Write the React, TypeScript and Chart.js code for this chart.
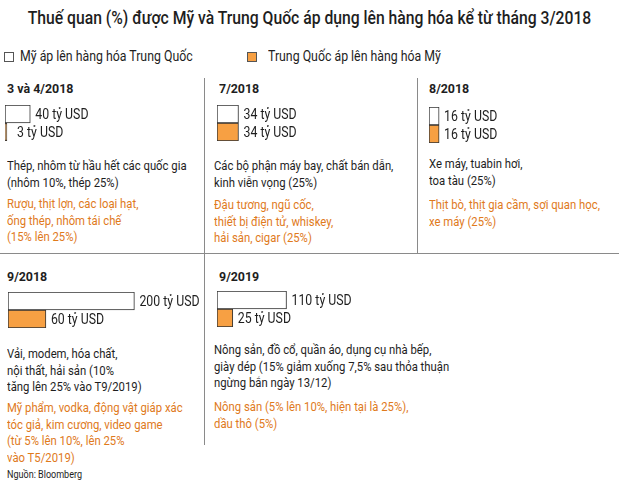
import React, { useEffect, useRef } from 'react';
import { Chart, registerables } from 'chart.js';

Chart.register(...registerables);

const title = 'Thuế quan (%) được Mỹ và Trung Quốc áp dụng lên hàng hóa kể từ tháng 3/2018';
const seriesLabels = ['Mỹ áp lên hàng hóa Trung Quốc', 'Trung Quốc áp lên hàng hóa Mỹ'];
const periods = ['3 và 4/2018', '7/2018', '8/2018', '9/2018', '9/2019'];
const usValues = [40, 34, 16, 200, 110];
const chinaValues = [3, 34, 16, 60, 25];
const unit = 'tỷ USD';
const usGoods: string[][] = [
  ['Thép, nhôm từ hầu hết các quốc gia', '(nhôm 10%, thép 25%)'],
  ['Các bộ phận máy bay, chất bán dẫn,', 'kinh viễn vọng (25%)'],
  ['Xe máy, tuabin hơi,', 'toa tàu (25%)'],
  ['Vải, modem, hóa chất,', 'nội thất, hải sản (10%', 'tăng lên 25% vào T9/2019)'],
  ['Nông sản, đồ cổ, quần áo, dụng cụ nhà bếp,', 'giày dép (15% giảm xuống 7,5% sau thỏa thuận', 'ngừng bắn ngày 13/12)'],
];
const chinaGoods: string[][] = [
  ['Rượu, thịt lợn, các loại hạt,', 'ống thép, nhôm tái chế', '(15% lên 25%)'],
  ['Đậu tương, ngũ cốc,', 'thiết bị điện tử, whiskey,', 'hải sản, cigar (25%)'],
  ['Thịt bò, thịt gia cầm, sợi quan học,', 'xe máy (25%)'],
  ['Mỹ phẩm, vodka, động vật giáp xác', 'tóc giả, kim cương, video game', '(từ 5% lên 10%, lên 25%', 'vào T5/2019)'],
  ['Nông sản (5% lên 10%, hiện tại là 25%),', 'dầu thô (5%)'],
];
const source = 'Nguồn: Bloomberg';

const FONT = 'Roboto, "Noto Sans", sans-serif';
const ORANGE = '#F7A043';
const ORANGE_TEXT = '#E07A1C';
const DARK = '#1e1e1e';
const LINE = '#8a8a8a';
const PX_PER_UNIT = 0.632;

// layout of each panel
const layout = [
  { hx: 7, hy: 80, bx: 5, by: 105, tx: 7, ty: 158, oy: 196, cw: 198 },
  { hx: 219, hy: 80, bx: 217, by: 105, tx: 214, ty: 158, oy: 197, cw: 198 },
  { hx: 429, hy: 80, bx: 429, by: 107, tx: 429, ty: 156, oy: 197, cw: 188 },
  { hx: 7, hy: 268, bx: 8, by: 292, tx: 7, ty: 346, oy: 400, cw: 196 },
  { hx: 219, hy: 268, bx: 217, by: 291, tx: 214, ty: 342, oy: 399, cw: 200 },
];

const labelPlugin = {
  id: 'valueLabels',
  afterDatasetsDraw(chart: any) {
    const ctx = chart.ctx;
    const meta = chart.getDatasetMeta(0);
    const data = chart.data.datasets[0].data as number[];
    meta.data.forEach((el: any, i: number) => {
      const x = Math.max(el.x + 5, el.base + 12);
      ctx.save();
      ctx.translate(x, el.y + 1);
      ctx.scale(0.88, 1);
      ctx.font = `14px ${FONT}`;
      ctx.fillStyle = DARK;
      ctx.textBaseline = 'middle';
      ctx.fillText(`${data[i]} ${unit}`, 0, 0);
      ctx.restore();
    });
  },
};

function PanelBars({ index, width }: { index: number; width: number }) {
  const ref = useRef<HTMLCanvasElement>(null);
  useEffect(() => {
    if (!ref.current) return;
    const chart = new Chart(ref.current, {
      type: 'bar',
      data: {
        labels: seriesLabels,
        datasets: [
          {
            data: [usValues[index], chinaValues[index]],
            backgroundColor: ['#ffffff', ORANGE],
            borderColor: '#333',
            borderWidth: 1,
            borderSkipped: false,
            barPercentage: 1,
            categoryPercentage: 1,
          },
        ],
      },
      options: {
        indexAxis: 'y',
        responsive: false,
        animation: false,
        events: [],
        layout: { padding: 0 },
        plugins: { legend: { display: false }, tooltip: { enabled: false } },
        scales: {
          x: { display: false, min: 0, max: width / PX_PER_UNIT },
          y: { display: false },
        },
      },
      plugins: [labelPlugin],
    });
    return () => chart.destroy();
  }, [index, width]);
  return <canvas ref={ref} width={width} height={36} style={{ display: 'block', width, height: 36 }} />;
}

const abs = (s: React.CSSProperties): React.CSSProperties => ({ position: 'absolute', ...s });

export default function App() {
  const textStyle: React.CSSProperties = {
    fontFamily: FONT,
    fontSize: 13,
    lineHeight: '16.5px',
    whiteSpace: 'nowrap',
    transform: 'scaleX(0.87)',
    transformOrigin: 'left top',
  };
  return (
    <div style={{ position: 'absolute', left: 0, top: 0, width: 619, height: 484, background: '#fff', overflow: 'hidden', fontFamily: FONT, color: DARK }}>
      <div style={abs({ left: -150, top: 7, width: 919, textAlign: 'center', fontSize: 18, fontWeight: 500, whiteSpace: 'nowrap', transform: 'scaleX(0.873)', transformOrigin: '459.5px 0' })}>{title}</div>
      {/* legend */}
      <div style={abs({ left: 4, top: 52, width: 8, height: 8, border: '1px solid #555', background: '#fff' })} />
      <div style={abs({ left: 20, top: 48, fontSize: 14, whiteSpace: 'nowrap', transform: 'scaleX(0.88)', transformOrigin: 'left top' })}>{seriesLabels[0]}</div>
      <div style={abs({ left: 247, top: 52, width: 8, height: 8, border: '1px solid #555', background: ORANGE })} />
      <div style={abs({ left: 268, top: 48, fontSize: 14, whiteSpace: 'nowrap', transform: 'scaleX(0.88)', transformOrigin: 'left top' })}>{seriesLabels[1]}</div>
      {/* dividers */}
      <div style={abs({ left: 204, top: 78, width: 1, height: 367, background: LINE })} />
      <div style={abs({ left: 417, top: 78, width: 1, height: 175, background: LINE })} />
      <div style={abs({ left: 0, top: 253, width: 619, height: 1, background: LINE })} />
      {periods.map((p, i) => {
        const L = layout[i];
        return (
          <React.Fragment key={p}>
            <div style={abs({ left: L.hx, top: L.hy, fontSize: 13.5, fontWeight: 700, whiteSpace: 'nowrap', transform: 'scaleX(0.92)', transformOrigin: 'left top' })}>{p}</div>
            <div style={abs({ left: L.bx, top: L.by })}>
              <PanelBars index={i} width={L.cw} />
            </div>
            <div style={abs({ left: L.tx, top: L.ty, ...textStyle, color: DARK })}>
              {usGoods[i].map((l, j) => (
                <div key={j}>{l}</div>
              ))}
            </div>
            <div style={abs({ left: L.tx, top: L.oy, ...textStyle, color: ORANGE_TEXT })}>
              {chinaGoods[i].map((l, j) => (
                <div key={j}>{l}</div>
              ))}
            </div>
          </React.Fragment>
        );
      })}
      <div style={abs({ left: 7, top: 468, fontSize: 10.5, whiteSpace: 'nowrap', transform: 'scaleX(0.86)', transformOrigin: 'left top' })}>{source}</div>
    </div>
  );
}
